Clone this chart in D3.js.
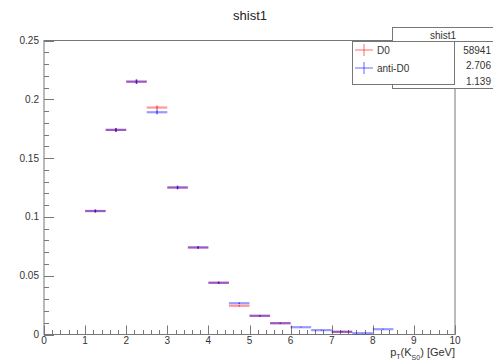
<!DOCTYPE html>
<html><head><meta charset="utf-8">
<script src="https://cdn.jsdelivr.net/npm/d3@7"></script>
<style>body{margin:0;background:#fff;}svg{font-family:"Liberation Sans",Arial,sans-serif;}</style>
</head><body><svg id="c" width="493" height="364"></svg>
<script>
const binStarts = [1.0,1.5,2.0,2.5,3.0,3.5,4.0,4.5,5.0,5.5,6.0,6.5,7.0,7.5,8.0];
const binWidth = 0.5;
const d0Values = [0.105,0.174,0.215,0.193,0.125,0.074,0.044,0.0244,0.0159,0.0096,null,null,0.0023,null,null];
const d0Errors = [0.0013,0.0017,0.0019,0.0018,0.0015,0.0011,0.0009,0.0006,0.0005,0.0004,null,null,0.0002,null,null];
const antiValues = [0.105,0.174,0.215,0.189,0.125,0.074,0.044,0.0266,0.0159,0.0096,0.0062,0.0037,0.0023,0.0011,0.0045];
const antiErrors = [0.0013,0.0017,0.0019,0.0018,0.0015,0.0011,0.0009,0.0007,0.0005,0.0004,0.0003,0.0003,0.0002,0.0001,0.0003];
const xTicks = [0,1,2,3,4,5,6,7,8,9,10];
const yTicks = [0,0.05,0.1,0.15,0.2,0.25];
const yTickLabels = ["0","0.05","0.1","0.15","0.2","0.25"];
const legendLabels = ["D0","anti-D0"];
const statsNames = ["Entries","Mean","Std Dev"];
const statsValues = ["58941","2.706","1.139"];

const svg = d3.select("#c");
const L=44, R=455, T=40.5, B=334.5;
const x = d3.scaleLinear().domain([0,10]).range([L,R]);
const y = d3.scaleLinear().domain([0,0.25]).range([B,T]);

svg.append("text").attr("x",250).attr("y",20).attr("text-anchor","middle")
  .attr("font-size",13).attr("fill","#222").text("shist1");

// frame
svg.append("rect").attr("x",L).attr("y",T).attr("width",R-L).attr("height",B-T)
  .attr("fill","none").attr("stroke","#777").attr("stroke-width",1);

// x ticks
const xMinor = d3.range(0,10.001,0.2);
svg.append("g").selectAll("line").data(xMinor).join("line")
  .attr("x1",d=>Math.round(x(d))+0.5).attr("x2",d=>Math.round(x(d))+0.5)
  .attr("y1",B).attr("y2",d=>Math.abs(d-Math.round(d))<1e-6?B-9:B-4.5)
  .attr("stroke","#777");
svg.append("g").selectAll("text").data(xTicks).join("text")
  .attr("x",d=>x(d)).attr("y",344).attr("text-anchor","middle")
  .attr("font-size",10).attr("fill","#333").text(d=>d);
// y ticks
const yMinor = d3.range(0,0.2501,0.01);
svg.append("g").selectAll("line").data(yMinor).join("line")
  .attr("y1",d=>Math.round(y(d))+0.5).attr("y2",d=>Math.round(y(d))+0.5)
  .attr("x1",L).attr("x2",d=>Math.abs(d*20-Math.round(d*20))<1e-6?L+10:L+5)
  .attr("stroke","#777");
svg.append("g").selectAll("text").data(yTicks).join("text")
  .attr("x",39).attr("y",d=>y(d)+3.5).attr("text-anchor","end")
  .attr("font-size",10).attr("fill","#333").text((d,i)=>yTickLabels[i]);

// axis title
const at = svg.append("text").attr("x",R).attr("y",356).attr("text-anchor","end")
  .attr("font-size",11).attr("fill","#333");
at.append("tspan").text("p");
at.append("tspan").attr("font-size",7).attr("dy",3).text("T");
at.append("tspan").attr("dy",-3).text("(K");
at.append("tspan").attr("font-size",7).attr("dy",4).text("S0");
at.append("tspan").attr("dy",-4).text(") [GeV]");

function drawHist(vals, errs, color){
  const g = svg.append("g");
  binStarts.forEach((s,i)=>{
    const v = vals[i]; if(v==null) return;
    g.append("line").attr("x1",x(s)).attr("x2",x(s+binWidth))
      .attr("y1",y(v)).attr("y2",y(v)).attr("stroke",color).attr("stroke-opacity",0.4).attr("stroke-width",2.2);
    const e = errs[i];
    g.append("line").attr("x1",x(s+binWidth/2)).attr("x2",x(s+binWidth/2))
      .attr("y1",y(v-e)).attr("y2",y(v+e)).attr("stroke",color).attr("stroke-opacity",0.6).attr("stroke-width",1.5);
  });
}
drawHist(d0Values,d0Errors,"#ff0000");
drawHist(antiValues,antiErrors,"#0000ff");

// stats box
const sb = svg.append("g");
sb.append("rect").attr("x",392.5).attr("y",27.5).attr("width",110).attr("height",61)
  .attr("fill","#fff").attr("stroke","#777");
sb.append("line").attr("x1",392.5).attr("x2",500).attr("y1",41.5).attr("y2",41.5).attr("stroke","#777");
sb.append("text").attr("x",443).attr("y",38.5).attr("text-anchor","middle").attr("font-size",10).attr("fill","#333").text("shist1");
const statY = [54,68.5,85];
statsNames.forEach((n,i)=>{
  sb.append("text").attr("x",396).attr("y",statY[i]).attr("font-size",10).attr("fill","#333").text(n);
  sb.append("text").attr("x",491).attr("y",statY[i]).attr("text-anchor","end").attr("font-size",10).attr("fill","#333").text(statsValues[i]);
});

// legend
const lg = svg.append("g");
lg.append("rect").attr("x",352.5).attr("y",41.5).attr("width",102).attr("height",43)
  .attr("fill","#fff").attr("stroke","#777");
const lcol = ["#ff0000","#0000ff"];
legendLabels.forEach((t,i)=>{
  const cy = 50 + i*18;
  lg.append("line").attr("x1",355).attr("x2",373).attr("y1",cy).attr("y2",cy).attr("stroke",lcol[i]).attr("stroke-opacity",0.5).attr("stroke-width",1.2);
  lg.append("line").attr("x1",364).attr("x2",364).attr("y1",cy-6).attr("y2",cy+6).attr("stroke",lcol[i]).attr("stroke-opacity",0.5).attr("stroke-width",1.2);
  lg.append("text").attr("x",377).attr("y",cy+3.5).attr("font-size",10).attr("fill","#333").text(t);
});
</script></body></html>
